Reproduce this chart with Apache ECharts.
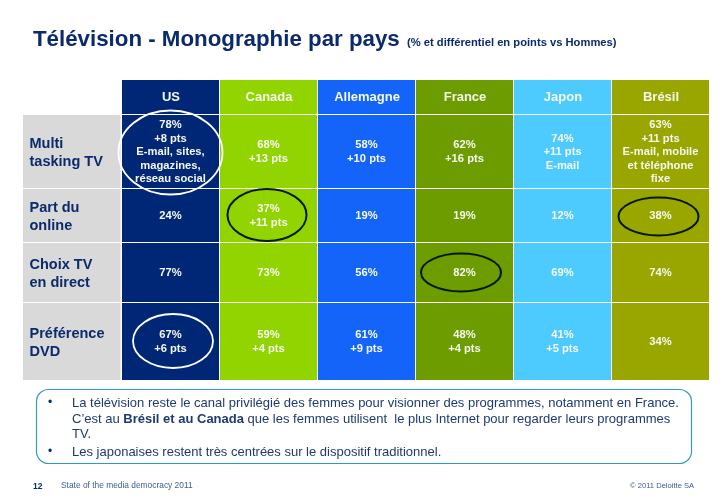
<!DOCTYPE html>
<html><head><meta charset="utf-8">
<style>html,body{margin:0;padding:0;background:#fff}#c{width:728px;height:504px}</style>
<script src="https://cdn.jsdelivr.net/npm/echarts@6/dist/echarts.min.js"></script>
</head><body><div id="c"></div>
<script>
const countries = ['US','Canada','Allemagne','France','Japon','Brésil'];
const rowNames = ['Multi\ntasking TV','Part du\nonline','Choix TV\nen direct','Préférence\nDVD'];
const multiTasking = [78,68,58,62,74,63];
const partOnline = [24,37,19,19,12,38];
const choixDirect = [77,73,56,82,69,74];
const prefDvd = [67,59,61,48,41,34];
const ptsMulti = [8,13,10,16,11,11];
const ptsOnline = [null,11,null,null,null,null];
const ptsDirect = [null,null,null,null,null,null];
const ptsDvd = [6,4,9,4,5,null];
const notesMulti = ['E-mail, sites,\nmagazines,\nréseau social','','','','E-mail','E-mail, mobile\net téléphone\nfixe'];
const highlights = [[0,0],[1,1],[5,1],[3,2],[0,3]];
const title = 'Télévision - Monographie par pays';
const subtitle = '(% et différentiel en points vs Hommes)';

// layout and styles
const colColors = ['#002776','#92D400','#1464FA','#6D9C00','#4DCBFF','#99A600'];
const rowEdges = [0,74,128,188,266];
const headerEdges = [-35,-1];
const ellipseStyle = [
  {rx:52,ry:42,dx:-0.5,dy:0.5,c:'#fff',w:1.8},
  {rx:39.5,ry:26,dx:-2,dy:-1,c:'#04180a',w:2},
  {rx:40,ry:19,dx:-2.5,dy:0.5,c:'#04180a',w:2},
  {rx:40,ry:19,dx:-4,dy:-0.5,c:'#04180a',w:2},
  {rx:40,ry:27,dx:2,dy:-1,c:'#fff',w:1.8}
];
const navy = '#0B2A6B';
const bodyColor = '#1F3A70';
const footColor = '#3E5C8E';
const fontFam = '"Liberation Sans",Arial,sans-serif';
const bodyFont = '13px '+fontFam;
const rows = [[multiTasking,ptsMulti],[partOnline,ptsOnline],[choixDirect,ptsDirect],[prefDvd,ptsDvd]];
const cellData = [];
rows.forEach((r,ri)=>countries.forEach((c,ci)=>{
  const lines=[r[0][ci]+'%'];
  if(r[1][ci]!==null) lines.push('+'+r[1][ci]+' pts');
  if(ri===0&&notesMulti[ci]) lines.push(notesMulti[ci]);
  cellData.push([ci,ri,lines.join('\n')]);
}));
const chart = echarts.init(document.getElementById('c'));
chart.setOption({
  animation:false,
  backgroundColor:'#fff',
  grid:{left:122,top:115,width:588,height:266},
  xAxis:{type:'category',data:countries,position:'top',axisLine:{show:false},axisTick:{show:false},splitLine:{show:false},
    axisLabel:{color:'#F4F8EC',fontFamily:fontFam,fontWeight:'bold',fontSize:13,margin:11},z:10},
  yAxis:{type:'value',inverse:true,min:0,max:266,show:false,splitLine:{show:false}},
  graphic:[
    {type:'text',left:33,top:29,style:{text:title,font:'bold 22.3px '+fontFam,fill:navy}},
    {type:'text',left:407,top:37.5,style:{text:subtitle,font:'bold 11.2px '+fontFam,fill:navy}},
    {type:'rect',shape:{x:36.5,y:389.5,width:655,height:74,r:12},style:{fill:'#fff',stroke:'#2E9CC0',lineWidth:1.2}},
    {type:'text',left:48,top:397,style:{text:'•',font:'12px '+fontFam,fill:navy}},
    {type:'text',left:72,top:397,style:{text:'La télévision reste le canal privilégié des femmes pour visionner des programmes, notamment en France.',font:bodyFont,fill:bodyColor}},
    {type:'text',left:72,top:413,style:{text:'C’est au {b|Brésil et au Canada} que les femmes utilisent  le plus Internet pour regarder leurs programmes',font:bodyFont,fill:bodyColor,rich:{b:{font:'bold 13px '+fontFam,fill:bodyColor}}}},
    {type:'text',left:72,top:428,style:{text:'TV.',font:bodyFont,fill:bodyColor}},
    {type:'text',left:48,top:446,style:{text:'•',font:'12px '+fontFam,fill:navy}},
    {type:'text',left:72,top:446,style:{text:'Les japonaises restent très centrées sur le dispositif traditionnel.',font:bodyFont,fill:bodyColor}},
    {type:'text',left:33,top:482,style:{text:'12',font:'bold 8.5px '+fontFam,fill:navy}},
    {type:'text',left:61,top:482,style:{text:'State of the media democracy 2011',font:'8.4px '+fontFam,fill:footColor}},
    {type:'text',left:630,top:482,style:{text:'© 2011 Deloitte SA',font:'7.6px '+fontFam,fill:footColor}}
  ],
  series:[
    {type:'custom',name:'header',coordinateSystem:'cartesian2d',clip:false,z:1,silent:true,
      data:countries.map((c,i)=>[i,0]),
      renderItem(p,api){
        const ci=api.value(0),b=api.size([1,0])[0];
        const t=api.coord([ci,headerEdges[0]]),e=api.coord([ci,headerEdges[1]]);
        return {type:'rect',shape:{x:t[0]-b/2,y:t[1],width:b-1,height:e[1]-t[1]},style:{fill:colColors[ci]}};
      }},
    {type:'custom',name:'rowLabels',coordinateSystem:'cartesian2d',clip:false,z:2,silent:true,
      data:rowNames.map((n,i)=>[0,i,n]),
      renderItem(p,api){
        const ri=api.value(1),b=api.size([1,0])[0];
        const t=api.coord([0,rowEdges[ri]]),e=api.coord([0,rowEdges[ri+1]]);
        const x=t[0]-b/2-99,y=t[1],h=e[1]-t[1]-1;
        return {type:'group',children:[
          {type:'rect',shape:{x,y,width:97.5,height:h},style:{fill:'#D9D9D9'}},
          {type:'text',style:{text:rowNames[ri],x:x+6.5,y:y+h/2+1,align:'left',verticalAlign:'middle',font:'bold 14.5px '+fontFam,lineHeight:18,fill:navy}}
        ]};
      }},
    {type:'custom',name:'cells',coordinateSystem:'cartesian2d',clip:false,z:3,silent:true,
      data:cellData,
      renderItem(p,api){
        const ci=api.value(0),ri=api.value(1),b=api.size([1,0])[0];
        const t=api.coord([ci,rowEdges[ri]]),e=api.coord([ci,rowEdges[ri+1]]);
        const h=e[1]-t[1]-1;
        return {type:'group',children:[
          {type:'rect',shape:{x:t[0]-b/2,y:t[1],width:b-1,height:h},style:{fill:colColors[ci]}},
          {type:'text',style:{text:cellData[p.dataIndex][2],x:t[0]-0.5,y:t[1]+h/2+0.5,align:'center',verticalAlign:'middle',font:'bold 11.2px '+fontFam,lineHeight:13.5,fill:'#F6F8F0'}}
        ]};
      }},
    {type:'custom',name:'highlights',coordinateSystem:'cartesian2d',clip:false,z:4,silent:true,
      data:highlights,
      renderItem(p,api){
        const ci=api.value(0),ri=api.value(1),s=ellipseStyle[p.dataIndex];
        const t=api.coord([ci,rowEdges[ri]]),e=api.coord([ci,rowEdges[ri+1]]);
        return {type:'ellipse',shape:{cx:t[0]+s.dx,cy:(t[1]+e[1])/2+s.dy,rx:s.rx,ry:s.ry},style:{fill:'none',stroke:s.c,lineWidth:s.w}};
      }}
  ]
});
</script></body></html>
